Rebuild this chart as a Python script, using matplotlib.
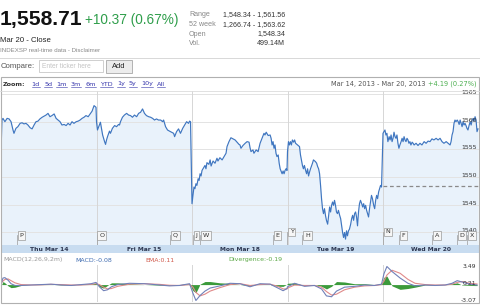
import matplotlib
matplotlib.use("Agg")
import matplotlib.pyplot as plt
import matplotlib.transforms as mtransforms
from matplotlib.lines import Line2D
from matplotlib.patches import Rectangle
import numpy as np

# ---------------- data ----------------
last_price = "1,558.71"
change_text = "+10.37 (0.67%)"
close_label = "Mar 20 - Close"
source_label = "INDEXSP real-time data - Disclaimer"
stat_labels = ["Range", "52 week", "Open", "Vol."]
stat_values = ["1,548.34 - 1,561.56", "1,266.74 - 1,563.62", "1,548.34", "499.14M"]
zoom_links = ["1d", "5d", "1m", "3m", "6m", "YTD", "1y", "5y", "10y", "All"]
period_text = "Mar 14, 2013 - Mar 20, 2013"
period_change = "+4.19 (0.27%)"
day_labels = ["Thu Mar 14", "Fri Mar 15", "Mon Mar 18", "Tue Mar 19", "Wed Mar 20"]
session_minutes = 390
prev_close = 1548.34
price_ticks = [1540, 1545, 1550, 1555, 1560, 1565]

# intraday prices: minutes after the open, index level
thu_min = [0, 4, 8, 16, 25, 33, 41, 49, 53, 61, 69, 78, 86, 94, 102, 110, 119, 127, 135, 143,
           151, 159, 168, 176, 184, 192, 200, 208, 217, 225, 233, 241, 249, 258, 266, 274, 282,
           290, 298, 307, 315, 323, 331, 339, 347, 356, 364, 372, 380, 388]
thu_px = [1554.6, 1560.3, 1560.6, 1560.0, 1560.6, 1560.5, 1560.0, 1558.5, 1557.9, 1558.8,
          1559.1, 1559.7, 1559.8, 1559.6, 1559.7, 1559.4, 1558.9, 1558.7, 1559.4, 1560.0,
          1560.1, 1560.5, 1560.8, 1561.0, 1561.2, 1561.5, 1560.9, 1561.1, 1561.4, 1560.6,
          1560.3, 1560.0, 1559.4, 1559.5, 1559.3, 1559.7, 1559.4, 1560.0, 1559.7, 1560.0,
          1560.1, 1560.3, 1560.6, 1560.8, 1561.1, 1560.9, 1561.4, 1561.9, 1562.9, 1562.6]
fri_min = [0, 4, 12, 16, 25, 29, 33, 37, 41, 45, 53, 57, 65, 74, 82, 90, 94, 98, 106, 114,
           123, 131, 139, 147, 155, 164, 172, 180, 188, 196, 204, 213, 221, 229, 237, 245, 253,
           262, 270, 274, 282, 290, 298, 307, 315, 319, 327, 335, 343, 352, 360, 368, 376, 380, 384]
fri_px = [1560.0, 1558.5, 1559.4, 1559.9, 1557.6, 1557.0, 1556.4, 1555.9, 1556.7, 1557.3,
          1558.3, 1557.9, 1558.8, 1559.3, 1559.1, 1559.5, 1559.4, 1560.0, 1560.8, 1561.2,
          1561.5, 1561.2, 1561.1, 1560.8, 1561.2, 1560.9, 1561.5, 1561.7, 1562.3, 1561.5,
          1561.1, 1560.9, 1560.8, 1560.6, 1560.3, 1560.5, 1560.3, 1560.3, 1560.0, 1560.3,
          1559.1, 1558.5, 1558.3, 1558.1, 1557.9, 1557.3, 1558.2, 1558.7, 1557.9, 1558.8,
          1559.4, 1560.0, 1559.7, 1560.1, 1560.0]
mon_min = [0, 4, 8, 12, 16, 20, 25, 29, 33, 37, 41, 45, 53, 57, 61, 69, 74, 78, 86, 94,
           102, 106, 114, 123, 131, 139, 143, 151, 159, 168, 176, 184, 192, 196, 200, 208, 217,
           225, 233, 237, 241, 249, 253, 262, 270, 278, 286, 294, 298, 303, 311, 319, 323, 327,
           331, 335, 339, 343, 347, 352, 356, 360, 368, 372, 376, 380, 384, 388]
mon_px = [1545.2, 1546.7, 1548.2, 1547.9, 1548.8, 1548.5, 1549.7, 1549.4, 1550.6, 1550.2,
          1551.2, 1551.5, 1552.1, 1551.5, 1552.6, 1552.3, 1553.1, 1552.0, 1552.9, 1552.5,
          1553.4, 1552.9, 1553.5, 1553.1, 1553.7, 1554.3, 1555.5, 1556.4, 1557.1, 1556.9,
          1556.7, 1556.3, 1555.9, 1555.8, 1555.2, 1555.7, 1556.1, 1556.4, 1556.3, 1555.3,
          1554.6, 1554.9, 1554.3, 1554.9, 1554.6, 1556.1, 1557.0, 1557.9, 1557.6, 1558.1,
          1557.5, 1557.6, 1557.0, 1555.8, 1556.4, 1555.2, 1555.8, 1554.3, 1553.7, 1554.0,
          1552.5, 1551.5, 1550.6, 1551.1, 1550.6, 1551.2, 1551.5, 1551.2]
tue_min = [0, 4, 8, 12, 16, 20, 25, 29, 33, 41, 49, 53, 57, 61, 65, 69, 74, 78, 82, 86, 90, 94,
           102, 106, 114, 119, 123, 127, 131, 135, 139, 143, 147, 151, 155, 159, 164, 168, 172,
           176, 180, 184, 188, 192, 196, 200, 204, 208, 213, 217, 221, 225, 229, 233, 237, 241,
           245, 249, 253, 258, 262, 266, 270, 274, 278, 282, 286, 290, 294, 298, 303, 307, 311,
           315, 319, 323, 327, 331, 335, 339, 343, 347, 352, 356, 360, 364, 368, 372, 376, 380, 384]
tue_px = [1554.6, 1556.4, 1555.8, 1556.4, 1555.8, 1556.7, 1556.3, 1556.7, 1556.1,
          1555.8, 1555.5,
          1554.0, 1553.1, 1552.1, 1551.5, 1552.1, 1551.2, 1550.6, 1551.5, 1550.2, 1550.9, 1551.5,
          1552.5, 1553.1,
          1552.8, 1552.5, 1551.9, 1551.5, 1550.6, 1548.5, 1546.1, 1544.3, 1543.4, 1544.3,
          1543.1, 1542.2, 1541.5, 1543.1, 1544.6, 1543.7, 1544.9, 1545.5, 1544.9, 1545.8,
          1544.9, 1543.7, 1543.4, 1544.0, 1543.1, 1542.5, 1541.2, 1540.0, 1539.1, 1540.0,
          1538.8, 1540.3, 1539.4, 1540.3, 1540.6, 1541.5, 1542.5, 1543.1, 1542.2, 1543.4,
          1543.7, 1542.8, 1541.2, 1543.7, 1545.2, 1545.8, 1545.2, 1544.6, 1545.2, 1544.3,
          1544.9, 1544.0, 1543.4, 1542.8, 1544.3, 1545.5, 1546.7, 1546.1, 1544.9, 1544.3,
          1545.8, 1546.7, 1546.1, 1547.3, 1547.9, 1548.5, 1548.2]
wed_min = [0, 4, 8, 12, 16, 20, 25, 29, 33, 37, 41, 45, 49, 53, 57, 61, 65, 69, 74, 78, 82, 86,
           90, 94, 98, 102, 106, 110, 114, 119, 123, 127,
           135, 143, 151, 159, 168, 176, 184, 192, 200, 208, 217, 225, 233, 241, 249, 258, 266, 274,
           278, 282, 286, 290, 294, 298, 303, 307, 311, 315, 319, 323, 327, 331, 335, 339, 343,
           347, 352, 356, 360, 364, 368, 372, 376, 380, 384, 388]
wed_px = [1557.9, 1558.2, 1558.5, 1557.6, 1557.9, 1556.4, 1557.3, 1556.7, 1557.6, 1556.4,
          1557.0, 1558.1, 1557.3, 1557.0, 1557.6, 1556.1, 1555.2, 1555.8, 1556.4, 1557.0,
          1556.4, 1557.3, 1556.7, 1556.4, 1557.0, 1556.7, 1556.1, 1556.4, 1555.8, 1556.3,
          1556.1, 1555.8,
          1556.1, 1555.7, 1556.1, 1555.8, 1556.4, 1556.1, 1556.5, 1556.4, 1556.9, 1556.7,
          1557.0, 1556.7, 1557.0, 1556.4, 1556.1, 1556.4, 1556.1, 1555.8,
          1556.4, 1557.6, 1558.2, 1559.7, 1560.3, 1560.0, 1560.3, 1560.0, 1559.5, 1560.3,
          1559.7, 1559.1, 1560.0, 1559.4, 1559.7, 1559.3, 1558.8, 1558.5, 1559.4, 1560.0,
          1559.4, 1560.3, 1560.6, 1560.1, 1560.9, 1560.3, 1558.2, 1558.7]

# news flags: letter, trading minutes since Thu open
flag_letters = ["P", "O", "Q", "J", "W", "E", "Y", "H", "N", "F", "A", "D", "X"]
flag_times = [64, 390, 691, 783, 813, 1110, 1168, 1231, 1560, 1625, 1759, 1861, 1902]
flag_raised = ["Y", "N"]

# MACD(12,26,9,2m): trading minutes since Thu open
macd_t = [0, 8, 16, 29, 41, 57, 82, 123, 164, 204, 245, 286, 327, 368, 388,
          402, 419, 435, 451, 476, 525, 586, 648, 688, 729, 770,
          784, 796, 813, 833, 854, 894, 935, 976, 1017, 1058, 1099, 1131, 1152, 1168,
          1170, 1199, 1240, 1280, 1309, 1329, 1350, 1370, 1403, 1444, 1485, 1525, 1554,
          1564, 1576, 1597, 1630, 1662, 1691, 1732, 1773, 1814, 1842, 1863, 1883, 1916, 1944]
macd_line = [0.0, 1.26, 1.34, 0.84, 0.17, -0.17, -0.17, -0.08, 0.0, 0.08, -0.08, -0.17, 0.0, 0.17, 0.42,
             -0.42, -1.18, -1.0, -0.42, 0.0, 0.25, 0.17, -0.08, -0.25, -0.17, 0.17,
             -1.68, -3.07, -2.1, -1.26, -0.67, -0.25, 0.25, 0.17, -0.42, 0.17, 0.08, -0.67, -1.18, -0.76,
             -0.42, 0.25, -0.34, -0.17, -0.84, -2.18, -2.35, -1.26, -0.5, -0.34, -0.08, -0.17, 0.08,
             2.1, 3.49, 2.52, 1.26, 0.25, -0.25, -0.08, -0.17, -0.08, 0.25, 0.76, 0.5, 0.08, -0.08]
ema_line = [0.25, 0.67, 1.0, 1.09, 0.76, 0.34, 0.0, -0.08, -0.04, 0.04, 0.0, -0.08, -0.08, 0.04, 0.17,
            0.0, -0.5, -0.84, -0.76, -0.34, 0.08, 0.17, 0.04, -0.13, -0.17, 0.0,
            -0.5, -1.51, -2.18, -1.85, -1.26, -0.59, 0.0, 0.17, -0.17, 0.0, 0.08, -0.34, -0.84, -0.84,
            -0.67, -0.08, -0.17, -0.17, -0.5, -1.34, -2.02, -1.85, -1.0, -0.5, -0.25, -0.17, 0.0,
            0.67, 1.85, 2.77, 2.18, 1.0, 0.25, 0.0, -0.08, -0.08, 0.08, 0.42, 0.59, 0.25, 0.11]
macd_ticks = [-3.07, 0.21, 3.49]
macd_texts = ["MACD(12,26,9,2m)", "MACD:-0.08", "EMA:0.11", "Divergence:-0.19"]

# ---------------- styling ----------------
W, H = 480, 305
LINE = "#3f76c0"
FILL = "#e9f2fb"
GRID = "#e3e3e3"
VGRID = "#d6d6d6"
BAND = "#c8dcf0"
GREEN = "#2f9e4b"
SANS = ["Liberation Sans", "DejaVu Sans"]
VERD = ["DejaVu Sans"]

fig = plt.figure(figsize=(4.8, 3.05), dpi=100)
fig.patch.set_facecolor("white")


def px_axes(x0, y0, x1, y1):
    a = fig.add_axes([x0 / W, 1 - y1 / H, (x1 - x0) / W, (y1 - y0) / H])
    for s in a.spines.values():
        s.set_visible(False)
    a.set_xticks([])
    a.set_yticks([])
    return a


def txt(x, y, s, **kw):
    kw.setdefault("va", "center")
    return fig.text(x / W, 1 - y / H, s, **kw)


def fline(xs, ys, **kw):
    fig.add_artist(Line2D([x / W for x in xs], [1 - y / H for y in ys],
                          transform=fig.transFigure, **kw))


# ---------------- header ----------------
txt(0, 19, last_price, fontsize=15.2, fontweight="bold", family=SANS, color="#111")
txt(85, 20, change_text, fontsize=9.8, family=SANS, color=GREEN)
txt(0, 40.5, close_label, fontsize=5.6, family=SANS, color="#222")
txt(0, 50.5, source_label, fontsize=4.4, family=SANS, color="#888")
for i, (lab, val) in enumerate(zip(stat_labels, stat_values)):
    y = 15 + i * 9.5
    txt(189, y, lab, fontsize=5.1, family=SANS, color="#888")
    txt(285, y, val, fontsize=5.1, family=SANS, color="#333", ha="right")

fline([0, 480], [58, 58], color="#d8d8d8", lw=0.7)

# compare row
txt(1, 67, "Compare:", fontsize=5.6, family=SANS, color="#555")
fig.add_artist(Rectangle((39 / W, 1 - 72 / H), 64 / W, 12 / H, transform=fig.transFigure,
                         fc="white", ec="#c8c8c8", lw=0.6))
txt(42, 66.5, "Enter ticker here", fontsize=4.8, family=SANS, color="#c4c4c4")
fig.add_artist(Rectangle((106 / W, 1 - 73 / H), 26 / W, 13 / H, transform=fig.transFigure,
                         fc="#ececec", ec="#a8a8a8", lw=0.6))
txt(119, 66.5, "Add", fontsize=5.4, family=SANS, color="#222", ha="center")

# chart frame
fig.add_artist(Rectangle((0.5 / W, 1 - 303 / H), 478.5 / W, 226.5 / H, transform=fig.transFigure,
                         fc="none", ec="#b0b0b0", lw=0.8))
fline([0, 479], [91, 91], color="#dcdcdc", lw=0.6)

# zoom row
ztxt = txt(3, 84, "Zoom:", fontsize=4.6, family=VERD, fontweight="bold", color="#333")
link_artists = []
for lab in zoom_links:
    link_artists.append(txt(0, 84, lab, fontsize=4.6, family=VERD, color="#3333aa"))
pt = txt(477, 84, period_change, fontsize=4.8, family=VERD, color="#4caf50", ha="right")
pd = txt(0, 84, period_text, fontsize=4.8, family=VERD, color="#555", ha="right")

# ---------------- price panel ----------------
t_all, p_all = [], []
for i, (m, p) in enumerate([(thu_min, thu_px), (fri_min, fri_px), (mon_min, mon_px),
                            (tue_min, tue_px), (wed_min, wed_px)]):
    t_all.append(np.asarray(m, float) + i * session_minutes)
    p_all.append(np.asarray(p, float))
t_all = np.concatenate(t_all)
p_all = np.concatenate(p_all)
n_days = len(day_labels)
x_end = n_days * session_minutes

ymin, ymax = 1537.74, 1565.54
ax = px_axes(1, 91, 478.5, 245)
ax.set_xlim(0, x_end)
ax.set_ylim(ymin, ymax)
ax.set_facecolor("white")
ax.fill_between(t_all, p_all, ymin, color=FILL, lw=0, zorder=1)
for v in price_ticks:
    ax.axhline(v, color=GRID, lw=0.7, zorder=2)
for d in range(1, n_days):
    ax.axvline(d * session_minutes, color=VGRID, lw=0.7, zorder=2)
ax.plot([(n_days - 1) * session_minutes, x_end], [prev_close, prev_close], color="#8a8a8a",
        lw=0.9, dashes=(3, 2.2), zorder=3)
ax.plot(t_all, p_all, color=LINE, lw=0.85, zorder=4, solid_joinstyle="round")
for v in price_ticks:
    ax.annotate(str(v), xy=(1, v), xycoords=("axes fraction", "data"), xytext=(-1, 1.2),
                textcoords="offset points", ha="right", va="center", fontsize=4.5,
                family=VERD, color="#333", zorder=5)

blend = mtransforms.blended_transform_factory(ax.transData, ax.transAxes)
for lab, ft in zip(flag_letters, flag_times):
    yc = 0.085 if lab in flag_raised else 0.062
    ax.plot([ft, ft], [0, yc], transform=blend, color="#9a9a9a", lw=0.5, zorder=5)
    ax.annotate(lab, xy=(ft, yc), xycoords=blend, xytext=(2.0, 0), textcoords="offset points",
                ha="left", va="center", fontsize=4.6, family=VERD, color="#333",
                bbox=dict(boxstyle="square,pad=0.28", fc="#f6f6f6", ec="#9a9a9a", lw=0.5),
                zorder=6)

# ---------------- date band ----------------
band = px_axes(1, 245, 478.5, 253)
band.set_xlim(0, x_end)
band.set_ylim(0, 1)
band.set_facecolor(BAND)
for i, lab in enumerate(day_labels):
    band.text((i + 0.5) * session_minutes, 0.45, lab, ha="center", va="center", fontsize=4.3,
              fontweight="bold", family=VERD, color="#2b3550")

# ---------------- MACD ----------------
mx = [3, 75, 145, 228]
mcol = ["#9a9a9a", "#3e6bb0", "#d0584a", "#5aa845"]
for x, s, c in zip(mx, macd_texts, mcol):
    txt(x, 260, s, fontsize=4.5, family=VERD, color=c)

mt = np.asarray(macd_t, float)
mline = np.asarray(macd_line, float)
eline = np.asarray(ema_line, float)
div = mline - eline
mac = px_axes(1, 265, 478.5, 302)
mac.set_xlim(0, x_end)
mac.set_ylim(-3.36, 3.78)
mac.set_facecolor("white")
for d in range(1, n_days):
    mac.axvline(d * session_minutes, color=VGRID, lw=0.7, zorder=1)
mac.fill_between(mt, 0, div, color="#3b9a3b", lw=0, zorder=2)
mac.plot(mt, eline, color="#e08a8a", lw=0.8, zorder=3)
mac.plot(mt, mline, color="#7080b8", lw=0.8, zorder=4)
for v in macd_ticks:
    mac.text(0.995, v, f"{v:.2f}", transform=mtransforms.blended_transform_factory(
        mac.transAxes, mac.transData), ha="right", va="center", fontsize=4.4, family=VERD,
        color="#333", zorder=5)

# ---------------- layout of the zoom row ----------------
fig.canvas.draw()
r = fig.canvas.get_renderer()
x = ztxt.get_window_extent(r).x1 + 6
for a in link_artists:
    a.set_x(x / W)
    bb = a.get_window_extent(r)
    w = bb.width
    fig.add_artist(Line2D([x / W, (x + w) / W], [1 - 87.2 / H, 1 - 87.2 / H],
                          transform=fig.transFigure, color="#3333aa", lw=0.4))
    x += w + 4.2
pb = pt.get_window_extent(r)
pd.set_x((pb.x0 - 3) / W)

fig.savefig("out.png", dpi=100, facecolor="white")
